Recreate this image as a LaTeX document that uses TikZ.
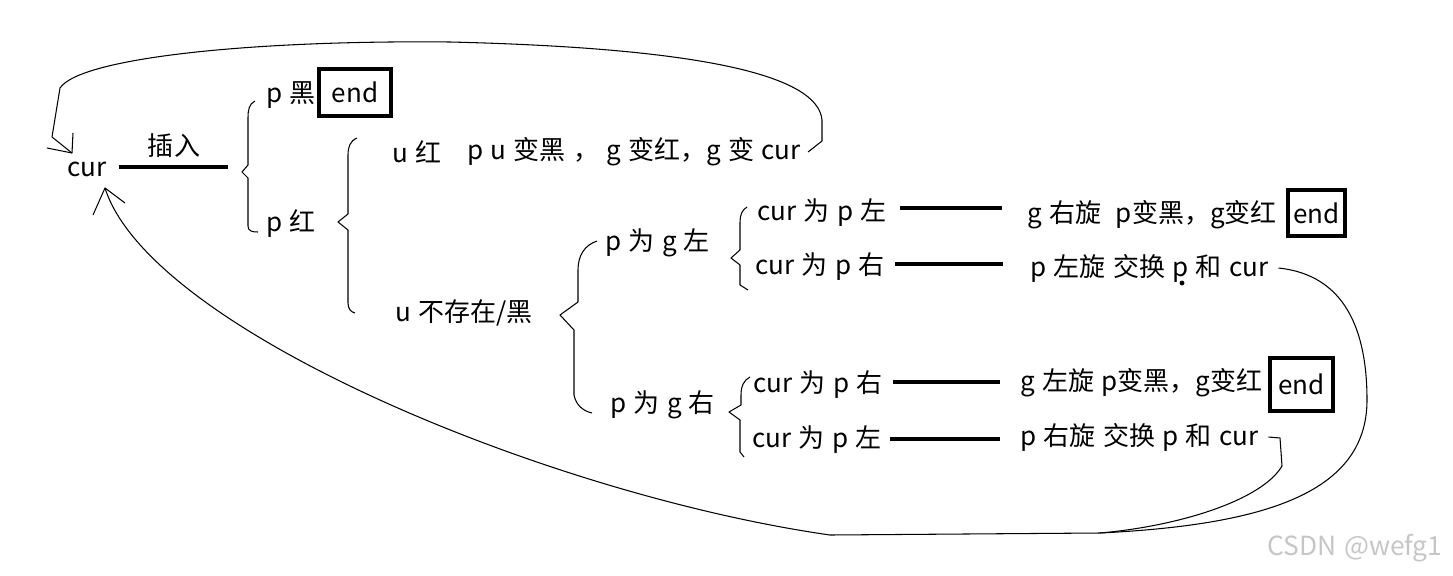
\documentclass[tikz,border=0pt]{standalone}
\usepackage{fontspec}
\setmainfont{Noto Sans CJK SC}[WordSpace=1.25]

\begin{document}
\begin{tikzpicture}[x=0.02cm, y=-0.02cm,
    txt/.style={anchor=west, inner sep=0pt, font=\fontsize{14.8}{17}\selectfont},
    endbox/.style={draw, line width=1.8pt, inner sep=0pt, font=\fontsize{14.8}{17}\selectfont},
    bar/.style={line width=2.4pt},
    thin/.style={line width=0.6pt, line join=round}]
    \useasboundingbox (0,0) rectangle (1453,575);

    % Wurzel und Einfuegen
    \node[txt] (cur) at (67,169) {cur};
    \node[font=\fontsize{14.8}{17}\selectfont] (ins) at (174,146) {插入};
    \coordinate (br1) at (242,167);
    \draw[bar, shorten <=0.24cm, shorten >=0.28cm] (cur.east |- br1) -- (br1);

    % erste Ebene: p schwarz / p rot
    \draw[thin] (255,101) .. controls (249,104) and (248,110) .. (248,118) -- (248,165)
        -- (242,172) -- (248,178) -- (248,226) .. controls (248,231) and (252,232) .. (258,232);
    \node[txt] (pb) at (266,95) {p 黑};
    \node[endbox, minimum width=1.44cm, minimum height=0.94cm] (endA) at (355,92.5) {end};
    \node[txt] (pr) at (266,224) {p 红};

    % zweite Ebene: u rot / u fehlt oder schwarz
    \draw[thin] (357,138) .. controls (350,141) and (348,147) .. (348,155) -- (348,214)
        -- (338,222) -- (348,230) -- (348,303) .. controls (348,309) and (351,312) .. (355,313);
    \node[txt] (ur) at (392,152) {u 红};
    \node[txt] (urdo) at (467,152) {p u 变黑 ， g 变红，g 变 cur};
    \node[txt] (ub) at (395,313) {u 不存在/黑};

    % dritte Ebene: p links / p rechts von g
    \draw[thin] (597,241) .. controls (585,245) and (578,255) .. (578,270) -- (578,302)
        -- (560,315) -- (574,330) -- (574,395) .. controls (576,405) and (583,411) .. (592,413);
    \node[txt] (pgl) at (605,243) {p 为 g 左};
    \node[txt] (pgr) at (610,405) {p 为 g 右};

    % vierte Ebene
    \draw[thin] (747,207) .. controls (742,210) and (740,215) .. (740,222) -- (740,250)
        -- (731,258) -- (740,265) -- (740,285) -- (748,290);
    \draw[thin] (750,377) .. controls (744,380) and (741,386) .. (741,395) -- (741,405)
        -- (729,412) -- (740,420) -- (740,452) -- (744,457);
    \node[txt] (cl1) at (757,213) {cur 为 p 左};
    \node[txt] (cr1) at (755,267) {cur 为 p 右};
    \node[txt] (cr2) at (753,385) {cur 为 p 右};
    \node[txt] (cl2) at (752,440) {cur 为 p 左};

    % Aktionen
    \node[txt] (rot1) at (1027,215) {g 右旋 \ p变黑，g变红};
    \node[txt] (rot2) at (1030,268) {p 左旋 交换 p 和 cur};
    \node[txt] (rot3) at (1020,383) {g 左旋 p变黑，g变红};
    \node[txt] (rot4) at (1020,437) {p 右旋 交换 p 和 cur};
    \node[endbox, minimum width=1.14cm, minimum height=0.92cm] (endC) at (1316.5,213) {end};
    \node[endbox, minimum width=1.26cm, minimum height=1.06cm] (endB) at (1301.5,384.5) {end};
    \fill (1182,283) circle (1.4pt);

    \draw[bar] (900,208) -- (1002,208);
    \draw[bar] (895,264) -- (1003,264);
    \draw[bar] (893,382) -- (1000,382);
    \draw[bar] (890,439) -- (1000,439);

    % Rueckspruenge zu cur
    \coordinate (tipA) at (72,153);
    \coordinate (tipB) at (105,188);
    \draw[thin] ([xshift=0.14cm]urdo.east) -- (822,141) -- (822,120)
        .. controls (818,75) and (700,48) .. (450,42)
        .. controls (250,40) and (80,58) .. (60,88) -- (52,137) -- (tipA);
    \draw[thin] (47,148) -- (tipA) -- (73,133);
    \draw[thin] ([xshift=0.2cm]rot2.east) .. controls (1345,275) and (1367,330) .. (1367,400)
        .. controls (1367,495) and (1260,525) .. (1100,533) -- (830,535)
        .. controls (550,495) and (150,330) .. (tipB);
    \draw[thin] (93,215) -- (tipB) -- (125,203);
    \draw[thin] ([xshift=0.2cm]rot4.east) -- (1280,438) -- (1282,466)
        .. controls (1262,500) and (1180,526) .. (1100,533);

    \node[text=gray!45, font=\fontsize{15}{17}\selectfont] (mark) at (1355,548) {CSDN @wefg1};
\end{tikzpicture}
\end{document}
